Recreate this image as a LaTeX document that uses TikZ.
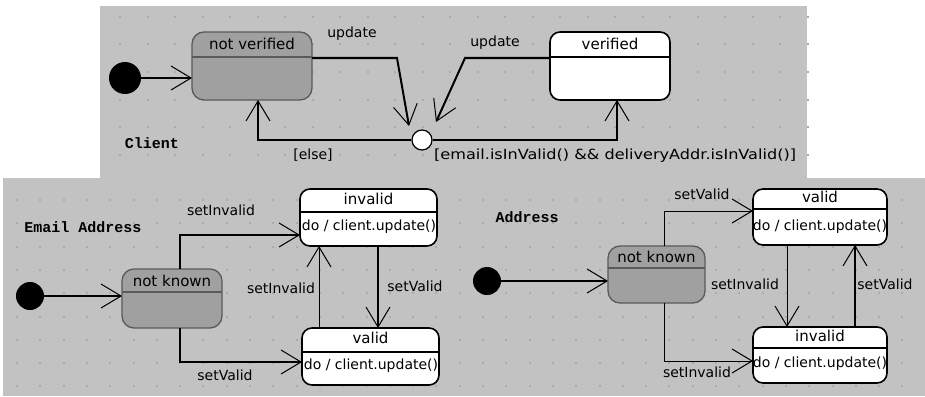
\documentclass[tikz,border=0pt]{standalone}
\usepackage{fontspec}
\setmainfont{DejaVu Sans}
\newfontfamily\pixmono{Liberation Mono}
\usetikzlibrary{arrows.meta}
\definecolor{bggray}{HTML}{C2C2C2}
\definecolor{dotgray}{HTML}{ABABAB}
\definecolor{stfill}{HTML}{A0A0A0}
\definecolor{stdraw}{HTML}{5A5A5A}
\begin{document}
\begin{tikzpicture}[x=1pt,y=-1pt,
  font=\fontsize{14}{16}\selectfont,
  tr/.style={line width=1.2pt, -{Straight Barb[length=20pt,width=24pt,line width=1pt]}},
  trthin/.style={tr, line width=1pt},
  trthick/.style={tr, line width=2.2pt},
  gstate/.style={draw=stdraw, fill=stfill, line width=1.3pt, rounded corners=12pt, inner sep=0pt, outer sep=0pt},
  wstate/.style={draw=black, fill=white, line width=1.6pt, rounded corners=10pt, inner sep=0pt, outer sep=0pt},
  gdiv/.style={draw=stdraw, line width=1.3pt},
  wdiv/.style={draw=black, line width=1.6pt},
  lbl/.style={inner sep=0pt, text height=10pt, text depth=3pt},
  ttl/.style={lbl, font=\fontsize{15}{17}\selectfont},
  captxt/.style={font=\pixmono\bfseries\fontsize{15}{17}\selectfont, inner sep=0pt},
  initdot/.style={circle, fill=black, inner sep=0pt, minimum size=30pt},
]
% background
\fill[white] (0,0) rectangle (925,396);
\useasboundingbox (0,0) rectangle (925,396);
\fill[bggray] (100,6) rectangle (807,178);
\fill[bggray] (3,178) rectangle (925,396);
\foreach \i in {0,...,25} \foreach \j in {0,...,5}
  \fill[dotgray] (119+27.5*\i, 16+27.5*\j) rectangle ++(2,2);
\foreach \i in {0,...,38} \foreach \j in {0,...,8}
  \fill[dotgray] (16+23.3*\i, 199+23.3*\j) rectangle ++(2,2);

% ---------------- Client ----------------
\node[captxt] (client) at (152,143) {Client};
\node[initdot, minimum size=32pt] (i1) at (125,78) {};
\node[gstate, minimum width=120pt, minimum height=68pt] (nv) at (252,66) {};
\draw[gdiv] (nv.west |- 0,57) -- (nv.east |- 0,57);
\node[ttl] (nvt) at (252,46) {not verified};
\node[wstate, minimum width=120pt, minimum height=68pt] (vf) at (610,66) {};
\draw[wdiv] (vf.west |- 0,57) -- (vf.east |- 0,57);
\node[ttl] (vft) at (610,46) {verified};
\node[circle, draw, fill=white, line width=1.2pt, minimum size=20pt, inner sep=0pt] (ch) at (422,140) {};

\draw[trthick] (i1) -- (nv.west |- i1);
\coordinate (u1) at (409,126);
\coordinate (u2) at (436,122);
\draw[tr, line width=2pt] (nv.east |- 0,58) -- (397,58) -- (u1);
\draw[tr, line width=2pt] (vf.west |- 0,58) -- (465,58) -- (u2);
\node[lbl] (lu1) at (352,34) {update};
\node[lbl] (lu2) at (495,43) {update};
\draw[tr] (ch.west) -| (nv.south -| 258,0);
\draw[tr] (ch.east) -| (vf.south -| 617,0);
\node[lbl] (lelse) at (313,156) {[else]};
\node[lbl, anchor=west] (lguard) at (434,156) {\scalebox{1.15}[1]{[email.isInValid() \&\& deliveryAddr.isInValid()]}};

% ---------------- Email Address ----------------
\node[captxt] (email) at (83,227) {Email Address};
\node[initdot, minimum size=28pt] (i2) at (30,296) {};
\node[gstate, minimum width=100pt, minimum height=59pt] (nkL) at (172,298.5) {};
\draw[gdiv] (nkL.west |- 0,292) -- (nkL.east |- 0,292);
\node[ttl] (nkLt) at (172,283) {not known};
\node[wstate, minimum width=137pt, minimum height=57pt] (invL) at (368.5,217.5) {};
\draw[wdiv] (invL.west |- 0,212) -- (invL.east |- 0,212);
\node[ttl] (invLt) at (368.5,201) {invalid};
\node[lbl] (invLb) at (369,227) {do / client.update()};
\node[wstate, minimum width=137pt, minimum height=57pt] (valL) at (370.5,356.5) {};
\draw[wdiv] (valL.west |- 0,352) -- (valL.east |- 0,352);
\node[ttl] (valLt) at (370.5,340) {valid};
\node[lbl] (valLb) at (371,366) {do / client.update()};

\draw[trthick] (i2) -- (nkL.west |- i2);
\draw[tr, line width=1.7pt] (nkL.north -| 180,0) |- (invL.west |- 0,235);
\draw[tr] (nkL.south -| 180,0) |- (valL.west |- 0,362);
\draw[trthick] (invL.south -| 378,0) -- (valL.north -| 378,0);
\draw[trthin] (valL.north -| 319,0) -- (invL.south -| 319,0);
\node[lbl] (l1) at (221,212) {setInvalid};
\node[lbl] (l2) at (225,377) {setValid};
\node[lbl] (l3) at (281,290) {setInvalid};
\node[lbl] (l4) at (415,288) {setValid};

% ---------------- Address ----------------
\node[captxt] (addr) at (527,217) {Address};
\node[initdot, minimum size=28pt] (i3) at (487,281) {};
\node[gstate, minimum width=97pt, minimum height=57pt] (nkR) at (656.5,274.5) {};
\draw[gdiv] (nkR.west |- 0,268) -- (nkR.east |- 0,268);
\node[ttl] (nkRt) at (656.5,259) {not known};
\node[wstate, minimum width=134pt, minimum height=56pt] (valR) at (820,217) {};
\draw[wdiv] (valR.west |- 0,209) -- (valR.east |- 0,209);
\node[ttl] (valRt) at (820,199) {valid};
\node[lbl] (valRb) at (820,227) {do / client.update()};
\node[wstate, minimum width=134pt, minimum height=56pt] (invR) at (820,355) {};
\draw[wdiv] (invR.west |- 0,348) -- (invR.east |- 0,348);
\node[ttl] (invRt) at (820,338) {invalid};
\node[lbl] (invRb) at (820,364) {do / client.update()};

\draw[trthick] (i3) -- (nkR.west |- i3);
\draw[trthin] (nkR.north -| 664,0) |- (valR.west |- 0,211);
\draw[trthin] (nkR.south -| 664,0) |- (invR.west |- 0,361);
\draw[trthin] (valR.south -| 787,0) -- (invR.north -| 787,0);
\draw[trthick] (invR.north -| 855,0) -- (valR.south -| 855,0);
\node[lbl] (r1) at (702,196) {setValid};
\node[lbl] (r2) at (697,374) {setInvalid};
\node[lbl] (r3) at (745,286) {setInvalid};
\node[lbl] (r4) at (885,286) {setValid};
\end{tikzpicture}
\end{document}
